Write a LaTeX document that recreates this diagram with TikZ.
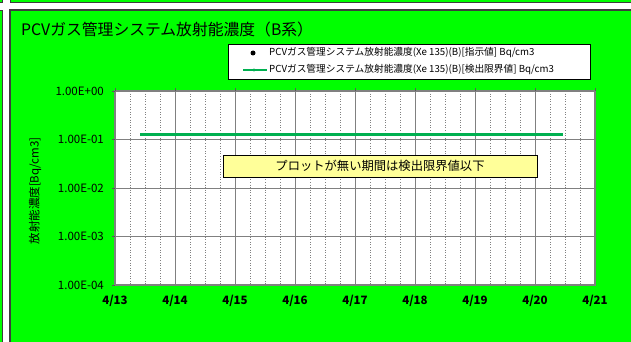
\documentclass[tikz,border=0pt]{standalone}
\usepackage{fontspec}
\setmainfont{Noto Sans CJK JP}
\definecolor{bg}{RGB}{0,255,0}
\definecolor{framec}{RGB}{60,60,60}
\definecolor{series}{RGB}{0,176,80}
\definecolor{gridc}{RGB}{128,128,128}
\definecolor{notec}{RGB}{255,255,153}
\tikzset{
  cell/.style={fill=bg, draw=framec, line width=1pt},
  gridsolid/.style={draw=gridc, line width=0.8pt},
  griddot/.style={draw=gridc, line width=0.6pt, dotted},
  ylab/.style={anchor=east, inner sep=0pt, font=\fontsize{11.5}{13}\selectfont},
  xlab/.style={anchor=center, inner sep=0pt, font=\fontsize{11.5}{13}\selectfont\bfseries},
  legtext/.style={anchor=west, inner sep=0pt, font=\fontsize{9.7}{11}\selectfont},
}
\begin{document}
\begin{tikzpicture}[x=1pt,y=-1pt]
\useasboundingbox (0,0) rectangle (631,342);
\fill[white] (0,0) rectangle (631,342);
% sheet cells
\filldraw[cell] (-2,-2) rectangle (2.8,2.8);
\filldraw[cell] (10.5,-2) rectangle (634,2.8);
\filldraw[cell] (-2,10.5) rectangle (2.8,345);
\filldraw[cell, line width=1.5pt] (10,10) rectangle (634,345);
% title
\node[anchor=west, inner sep=0pt, font=\fontsize{15.8}{18}\selectfont] (title) at (21,29) {PCVガス管理システム放射能濃度（B系）};
% legend
\node[draw=black, fill=white, line width=0.8pt, minimum width=362pt, minimum height=34.5pt, inner sep=0pt] (legend) at (409,61.75) {};
\fill[black] (253,53) circle (2.5);
\draw[series, line width=1.3pt] (243,70) -- (267,70);
\fill[series] (254,70) circle (1.7);
\node[legtext] (leg1) at (269,53) {PCVガス管理システム放射能濃度(Xe 135)(B)[指示値] Bq/cm3};
\node[legtext] (leg2) at (269,70) {PCVガス管理システム放射能濃度(Xe 135)(B)[検出限界値] Bq/cm3};
% plot area
\fill[white] (115,91) rectangle (595,285);
\foreach \d in {0,...,7} {
  \foreach \q in {1,2,3} {
    \draw[griddot] ({115+60*\d+15*\q},91) -- ++(0,194);
  }
}
\foreach \d in {1,...,7} {
  \draw[gridsolid] ({115+60*\d},91) -- ++(0,194);
}
\foreach \k in {1,2,3} {
  \draw[gridsolid] (115,{91+48.5*\k}) -- (595,{91+48.5*\k});
}
\draw[gridc, line width=1.1pt] (115,91) rectangle (595,285);
% ticks
\foreach \d in {0,...,8} {
  \draw[gridc!70!black, line width=0.8pt] ({115+60*\d},91) -- ++(0,-3);
}
\foreach \k in {0,...,4} {
  \draw[gridc!70!black, line width=0.8pt] (115,{91+48.5*\k}) -- ++(-3,0);
}
% y labels
\node[ylab] (y0) at (104,91) {1.00E+00};
\node[ylab] (y1) at (104,139.5) {1.00E-01};
\node[ylab] (y2) at (104,188) {1.00E-02};
\node[ylab] (y3) at (104,236.5) {1.00E-03};
\node[ylab] (y4) at (104,285) {1.00E-04};
% x labels
\foreach \d/\t in {0/4\slash 13,1/4\slash 14,2/4\slash 15,3/4\slash 16,4/4\slash 17,5/4\slash 18,6/4\slash 19,7/4\slash 20,8/4\slash 21} {
  \node[xlab] at ({115+60*\d},301) {\t};
}
% axis title
\node[rotate=90, inner sep=0pt, font=\fontsize{11.5}{13}\selectfont] (ytitle) at (35,191) {放射能濃度[Bq/cm3]};
% series
\draw[series, line width=3pt] (140,134) -- (563,134);
% note
\node[draw=black, fill=notec, line width=0.9pt, minimum width=314pt, minimum height=22pt, inner sep=0pt, font=\fontsize{12.3}{14}\selectfont] (note) at (380,166) {プロットが無い期間は検出限界値以下};
\end{tikzpicture}
\end{document}
